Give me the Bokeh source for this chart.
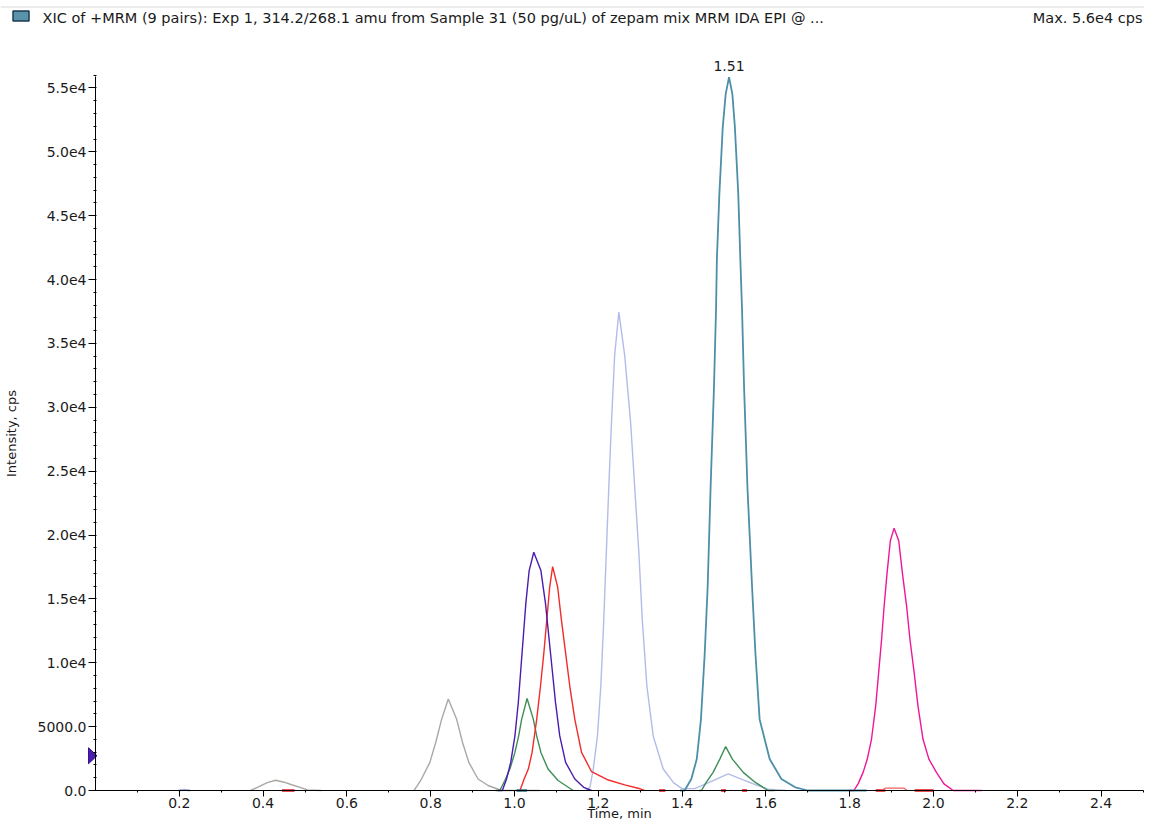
from bokeh.plotting import figure
from bokeh.models import Range1d, FixedTicker
from bokeh.embed import file_html
from bokeh.resources import INLINE

# ---------------- data ----------------
title_text = "XIC of +MRM (9 pairs): Exp 1, 314.2/268.1 amu from Sample 31 (50 pg/uL) of zepam mix MRM IDA EPI @ ..."
max_text = "Max. 5.6e4 cps"
x_label = "Time, min"
y_label = "Intensity, cps"

x_ticks = [0.2, 0.4, 0.6, 0.8, 1.0, 1.2, 1.4, 1.6, 1.8, 2.0, 2.2, 2.4]
x_tick_labels = ["0.2", "0.4", "0.6", "0.8", "1.0", "1.2", "1.4", "1.6", "1.8", "2.0",
                 "2.2", "2.4"]
x_minor = [0.1, 0.3, 0.5, 0.7, 0.9, 1.1, 1.3, 1.5, 1.7, 1.9, 2.1, 2.3, 2.5]
y_ticks = [0, 5000, 10000, 15000, 20000, 25000, 30000, 35000, 40000, 45000, 50000, 55000]
y_tick_labels = ["0.0", "5000.0", "1.0e4", "1.5e4", "2.0e4", "2.5e4", "3.0e4",
                 "3.5e4", "4.0e4", "4.5e4", "5.0e4", "5.5e4"]
y_minor = list(range(0, 56001, 1000))

# teal (314.2/268.1) - main peak
teal_t = [1.395, 1.406, 1.422, 1.435, 1.445, 1.454, 1.461, 1.468, 1.476, 1.481, 1.483,
          1.489, 1.497, 1.504, 1.512, 1.520, 1.526, 1.534, 1.539, 1.543, 1.548, 1.556,
          1.567, 1.575, 1.585, 1.609, 1.637, 1.670, 1.700, 1.840]
teal_i = [0, 0, 900, 2460, 5570, 10750, 15930, 23700, 31470, 37690, 41570,
          46750, 51930, 54520, 55850, 54520, 51930, 46750, 41570, 37690, 31470, 23700,
          15930, 10750, 5570, 2460, 900, 250, 0, 0]
teal_base_t = [1.005, 1.030]
teal_base_i = [0, 0]

# lavender
lav_t = [1.170, 1.180, 1.188, 1.198, 1.206, 1.213, 1.219, 1.225, 1.2315, 1.239, 1.249,
         1.263, 1.277, 1.287, 1.297, 1.305, 1.316, 1.331, 1.355, 1.380, 1.400, 1.430,
         1.474, 1.510, 1.546, 1.574, 1.605, 1.650]
lav_i = [0, 250, 1680, 4270, 8160, 13340, 18520, 23700, 28880, 34060, 37450,
         34060, 28880, 23700, 18520, 13340, 8160, 4270, 1680, 600, 150, 150,
         780, 1295, 830, 470, 100, 0]
lav_small_t = [0.198, 0.212, 0.226]
lav_small_i = [0, 60, 0]

# magenta
mag_t = [1.800, 1.810, 1.820, 1.832, 1.842, 1.852, 1.862, 1.869, 1.876, 1.882, 1.889,
         1.897, 1.906, 1.917, 1.926, 1.936, 1.944, 1.954, 1.963, 1.975, 1.989, 2.007,
         2.025, 2.047, 2.115]
mag_i = [0, 0, 520, 1420, 2460, 4010, 6600, 9190, 11780, 14370, 16960,
         19550, 20540, 19550, 16960, 14370, 11780, 9190, 6600, 4010, 2460, 1420,
         520, 0, 0]

# purple
pur_t = [0.960, 0.971, 0.981, 0.991, 1.001, 1.009, 1.015, 1.021, 1.027, 1.035, 1.046,
         1.063, 1.074, 1.082, 1.090, 1.098, 1.108, 1.122, 1.144, 1.165, 1.184]
pur_i = [0, 0, 900, 2200, 4270, 6860, 9450, 12040, 14630, 17220, 18650,
         17220, 14630, 12040, 9450, 6860, 4270, 2200, 900, 250, 0]

# red
red_t = [1.005, 1.013, 1.023, 1.033, 1.042, 1.053, 1.062, 1.070, 1.077, 1.084, 1.091,
         1.103, 1.112, 1.122, 1.132, 1.144, 1.160, 1.184, 1.224, 1.263, 1.295, 1.310]
red_i = [0, 0, 900, 1680, 2980, 5570, 8160, 10750, 13340, 15930, 17530,
         15930, 13340, 10750, 8160, 5570, 2980, 1470, 820, 440, 180, 0]
red_bits_t = [[0.445, 0.475], [1.345, 1.360], [1.493, 1.505], [1.543, 1.555],
              [1.862, 1.885], [1.955, 2.000]]
red_bits_i = [[0, 0], [0, 0], [0, 0], [0, 0], [0, 0], [0, 0]]
pale_red_t = [1.875, 1.885, 1.930, 1.937]
pale_red_i = [0, 180, 180, 0]

# green (two peaks)
grn1_t = [0.955, 0.965, 0.977, 0.989, 1.001, 1.010, 1.017, 1.030, 1.045, 1.053, 1.063,
          1.080, 1.104, 1.140]
grn1_i = [0, 0, 780, 1680, 2980, 4270, 5570, 7200, 5570, 4270, 2980,
          1680, 780, 0]
grn2_t = [1.440, 1.446, 1.458, 1.474, 1.490, 1.504, 1.520, 1.546, 1.574, 1.605, 1.620]
grn2_i = [0, 0, 650, 1420, 2460, 3440, 2460, 1420, 650, 0, 0]

# gray
gry1_t = [0.370, 0.390, 0.410, 0.430, 0.450, 0.470, 0.490, 0.506, 0.540]
gry1_i = [0, 300, 620, 800, 650, 430, 220, 40, 0]
gry2_t = [0.760, 0.768, 0.778, 0.798, 0.812, 0.826, 0.842, 0.862, 0.876, 0.891, 0.913,
          0.937, 0.969, 1.060]
gry2_i = [0, 390, 900, 2200, 3760, 5570, 7170, 5570, 3760, 2200, 900,
          390, 0, 0]

peak_label = ["1.51"]
peak_label_t = [1.512]
peak_label_i = [55850]
marker_level = 2720

# ---------------- layout (pixel geometry of the page) ----------------
W_FIG, H_FIG = 1144, 821
AX_LEFT_PX, PX_PER_MIN = 95, 419.0   # x pixel of time 0, pixels per minute
AX_TOP_PX, AX_BOTTOM_PX = 76, 790    # y pixels of the intensity axis top / zero
X0 = 0.0
Y_AXIS_TOP = 55900
FONT = "DejaVu Sans"
TXT = "#1a1a1a"
Y_PER_PX = Y_AXIS_TOP / (AX_BOTTOM_PX - AX_TOP_PX)


def px(u):
    """page x pixel -> time coordinate"""
    return X0 + (u - AX_LEFT_PX) / PX_PER_MIN


def py(v):
    """page y pixel -> intensity coordinate"""
    return (AX_BOTTOM_PX - v) * Y_PER_PX


X_END = px(1143)

p = figure(width=W_FIG, height=H_FIG, output_backend="svg", toolbar_location=None,
           x_range=Range1d(px(0), px(W_FIG)), y_range=Range1d(py(H_FIG), py(0)),
           min_border_left=0, min_border_right=0, min_border_top=0, min_border_bottom=0)
p.outline_line_color = None
p.grid.visible = False

for ax in (p.xaxis[0], p.yaxis[0]):
    ax.axis_line_color = "black"
    ax.axis_line_width = 1
    ax.major_tick_line_color = "black"
    ax.minor_tick_line_color = "black"
    ax.major_label_text_font = FONT
    ax.major_label_text_font_size = "14px"
    ax.major_label_text_color = TXT
    ax.axis_label_text_font = FONT
    ax.axis_label_text_font_size = "13px"
    ax.axis_label_text_font_style = "normal"
    ax.axis_label_text_color = TXT

p.xaxis.fixed_location = 0
p.xaxis.ticker = FixedTicker(ticks=x_ticks, minor_ticks=x_minor)
p.xaxis.major_label_overrides = {k: v for k, v in zip(x_ticks, x_tick_labels)}
p.xaxis.bounds = (X0, X_END)
p.xaxis.major_tick_in = 0
p.xaxis.major_tick_out = 6
p.xaxis.minor_tick_in = 0
p.xaxis.minor_tick_out = 2
p.xaxis.major_label_standoff = 1
p.xaxis.axis_label = x_label
p.xaxis.axis_label_standoff = -5

p.yaxis.fixed_location = X0
p.yaxis.ticker = FixedTicker(ticks=y_ticks, minor_ticks=y_minor)
p.yaxis.bounds = (0, Y_AXIS_TOP)
p.yaxis.major_label_overrides = {k: v for k, v in zip(y_ticks, y_tick_labels)}
p.yaxis.major_tick_in = 0
p.yaxis.major_tick_out = 7
p.yaxis.minor_tick_in = 1
p.yaxis.minor_tick_out = 2
p.yaxis.major_label_standoff = 2
p.yaxis.axis_label = y_label
p.yaxis.axis_label_standoff = 16

# ---------------- header (inside the frame, above the axes) ----------------
p.segment(x0=[px(0)], y0=[py(6.5)], x1=[px(W_FIG)], y1=[py(6.5)],
          line_color="#d9d9d9", line_width=1)
p.rect(x=[px(20.5)], y=[py(15.5)], width=[16 / PX_PER_MIN], height=[10 * Y_PER_PX],
       fill_color="#5B93AB", line_color="#1E3B50", line_width=1.5)
p.text(x=[px(42)], y=[py(17)], text=[title_text], text_align="left", text_baseline="middle",
       text_font_size="14.5px", text_color=TXT, text_font={"value": FONT})
p.text(x=[px(W_FIG - 2)], y=[py(17)], text=[max_text], text_align="right",
       text_baseline="middle", text_font_size="14.5px", text_color=TXT,
       text_font={"value": FONT})

# ---------------- traces ----------------
W = 1.4
p.line(gry1_t, gry1_i, line_color="#ABA7A4", line_width=W)
p.line(gry2_t, gry2_i, line_color="#ABA7A4", line_width=W)
p.line(lav_small_t, lav_small_i, line_color="#9FB0DA", line_width=2)
p.line(lav_t, lav_i, line_color="#B3BCE8", line_width=W)
p.line(grn1_t, grn1_i, line_color="#3E8E58", line_width=W)
p.line(grn2_t, grn2_i, line_color="#3E8E58", line_width=W)
p.line(red_t, red_i, line_color="#F22B2B", line_width=W)
p.line(pur_t, pur_i, line_color="#4A1CB0", line_width=W)
p.line(mag_t, mag_i, line_color="#EE169B", line_width=W)
p.line(teal_base_t, teal_base_i, line_color="#2E7A92", line_width=2.5)
p.line(teal_t, teal_i, line_color="#4D8EA8", line_width=1.8)
p.multi_line(red_bits_t, red_bits_i, line_color="#E01818", line_width=2.5)
p.line(pale_red_t, pale_red_i, line_color="#F46060", line_width=1.3)

p.text(x=peak_label_t, y=peak_label_i, text=peak_label, text_align="center",
       text_baseline="bottom", y_offset=-6, text_font_size="14px", text_color=TXT,
       text_font={"value": FONT})

# purple level marker (8 px wide, 16 px tall) just left of the intensity axis
p.patch(x=[px(88), px(88), px(96.5)],
        y=[marker_level + 8 * Y_PER_PX, marker_level - 8 * Y_PER_PX, marker_level],
        fill_color="#4A1CB0", line_color="#3A1290", line_width=1)

open("out.html", "w").write(file_html(p, INLINE))
